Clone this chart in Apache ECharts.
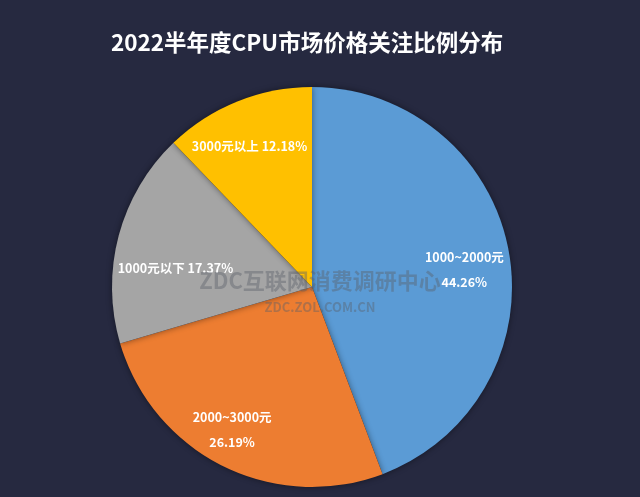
<!DOCTYPE html>
<html>
<head>
<meta charset="utf-8">
<script src="https://cdn.jsdelivr.net/npm/echarts@6/dist/echarts.min.js"></script>
<style>
html,body{margin:0;padding:0;background:#262940;}
#c{width:640px;height:497px;}
</style>
</head>
<body>
<div id="c"></div>
<script>
const titleText = '2022半年度CPU市场价格关注比例分布';
const categories = ['1000~2000元', '2000~3000元', '1000元以下', '3000元以上'];
const shares = [44.26, 26.19, 17.37, 12.18];
const colors = ['#5b9bd5', '#ed7d31', '#a5a5a5', '#ffc000'];
const labelSep = ['\n', '\n', ' ', ' '];
const labelNudge = [[51, 1], [-34, 51], [-37, 8], [-24, -45]];

const chart = echarts.init(document.getElementById('c'), null, {renderer: 'canvas'});
const font = '"Noto Sans CJK SC", "Noto Sans", sans-serif';

chart.setOption({
  backgroundColor: '#262940',
  animation: false,
  title: {
    text: titleText,
    left: 106,
    top: 26,
    textStyle: {color: '#ffffff', fontSize: 22.5, fontWeight: 'bold', fontFamily: font}
  },
  graphic: [
    {
      type: 'text', left: 'center', top: 270, z: 100,
      style: {text: 'ZDC互联网消费调研中心', fill: 'rgba(90,95,105,0.42)', font: 'bold 22px ' + font}
    },
    {
      type: 'text', left: 'center', top: 301, z: 100,
      style: {text: 'ZDC.ZOL.COM.CN', fill: 'rgba(90,95,105,0.42)', font: 'bold 13px ' + font}
    }
  ],
  series: [{
    type: 'pie',
    center: [312, 287],
    radius: 200,
    startAngle: 90,
    clockwise: true,
    avoidLabelOverlap: false,
    itemStyle: {shadowBlur: 6, shadowColor: 'rgba(0,0,0,0.45)'},
    label: {
      show: true,
      position: 'inside',
      color: '#ffffff',
      fontSize: 12.5,
      fontWeight: 'bold',
      fontFamily: font,
      lineHeight: 25
    },
    labelLine: {show: false},
    labelLayout: function (p) {
      const n = labelNudge[p.dataIndex];
      return {dx: n[0], dy: n[1]};
    },
    data: categories.map(function (c, i) {
      return {
        name: c,
        value: shares[i],
        itemStyle: {color: colors[i]},
        label: {formatter: c + labelSep[i] + shares[i].toFixed(2) + '%'}
      };
    })
  }]
});
</script>
</body>
</html>
